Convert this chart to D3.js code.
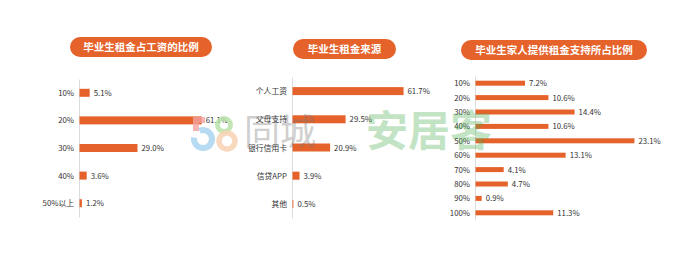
<!DOCTYPE html>
<html>
<head>
<meta charset="utf-8">
<script src="https://cdn.jsdelivr.net/npm/d3@7"></script>
<style>
  html, body { margin: 0; padding: 0; background: #fff; }
  svg { display: block; font-family: "Noto Sans CJK SC", "Noto Sans", sans-serif; }
</style>
</head>
<body>
<div id="chart"></div>
<script>
const W = 700, H = 266;
const orange = '#e5622b';

// panel 1: rent as share of salary
const shareTitle = '毕业生租金占工资的比例';
const shareCats = ['10%', '20%', '30%', '40%', '50%以上'];
const shareVals = [5.1, 61.1, 29.0, 3.6, 1.2];

// panel 2: source of rent
const sourceTitle = '毕业生租金来源';
const sourceCats = ['个人工资', '父母支持', '银行信用卡', '信贷APP', '其他'];
const sourceVals = [61.7, 29.5, 20.9, 3.9, 0.5];

// panel 3: share of rent supported by family
const familyTitle = '毕业生家人提供租金支持所占比例';
const familyCats = ['10%', '20%', '30%', '40%', '50%', '60%', '70%', '80%', '90%', '100%'];
const familyVals = [7.2, 10.6, 14.4, 10.6, 23.1, 13.1, 4.1, 4.7, 0.9, 11.3];

const svg = d3.select('#chart').append('svg').attr('width', W).attr('height', H);

function panel(cfg) {
    const g = svg.append('g');

    // title pill
    g.append('rect')
        .attr('x', cfg.pill[0]).attr('y', cfg.pill[1])
        .attr('width', cfg.pill[2]).attr('height', cfg.pill[3])
        .attr('rx', cfg.pill[3] / 2)
        .attr('fill', orange);
    g.append('text')
        .attr('x', cfg.pill[0] + cfg.pill[2] / 2)
        .attr('y', cfg.pill[1] + cfg.pill[3] / 2 + 3.8)
        .attr('text-anchor', 'middle')
        .attr('fill', '#fff')
        .attr('font-size', 10.5)
        .attr('font-weight', 'bold')
        .text(cfg.title);

    const x = d3.scaleLinear().domain([0, cfg.max]).range([cfg.x0, cfg.x1]);
    const y = d3.scalePoint().domain(cfg.cats).range(cfg.yr).padding(0.5);
    const data = cfg.cats.map((c, i) => ({ c, v: cfg.vals[i] }));

    const ax = g.append('g')
        .attr('transform', `translate(${cfg.x0},0)`)
        .call(d3.axisLeft(y).tickSize(0).tickSizeOuter(0).tickPadding(5));
    ax.select('.domain').attr('stroke', '#dcdcdc');
    ax.selectAll('text')
        .attr('font-size', 7.8)
        .attr('fill', '#333')
        .style('font-family', '"Noto Sans CJK SC", sans-serif');

    g.selectAll('rect.bar')
        .data(data)
        .enter()
        .append('rect')
        .attr('class', 'bar')
        .attr('x', cfg.x0 + 0.5)
        .attr('y', d => y(d.c) - cfg.bh / 2)
        .attr('width', d => x(d.v) - cfg.x0)
        .attr('height', cfg.bh)
        .attr('fill', orange);

    g.selectAll('text.val')
        .data(data)
        .enter()
        .append('text')
        .attr('class', 'val')
        .attr('x', d => x(d.v) + 4.5)
        .attr('y', d => y(d.c) + 3)
        .attr('font-size', 7.8)
        .attr('fill', '#333')
        .text(d => d.v.toFixed(1) + '%');
}

panel({ title: shareTitle, cats: shareCats, vals: shareVals,
    pill: [70, 37, 142, 20], max: 100, x0: 79, x1: 279, yr: [79, 217], bh: 8 });
panel({ title: sourceTitle, cats: sourceCats, vals: sourceVals,
    pill: [293, 39, 103, 20], max: 100, x0: 292, x1: 472, yr: [77, 218], bh: 8 });
panel({ title: familyTitle, cats: familyCats, vals: familyVals,
    pill: [461, 40, 186, 20], max: 25, x0: 475, x1: 647, yr: [76, 220], bh: 5 });

// watermark
const wm = svg.append('g').attr('pointer-events', 'none');
wm.append('path')
    .attr('d', 'M205,120 L196,120 L196,131')
    .attr('fill', 'none').attr('stroke', '#f4a3a3').attr('stroke-width', 6).attr('opacity', 0.8);
const arc = d3.arc().innerRadius(6).outerRadius(12);
wm.append('path')
    .attr('transform', 'translate(203,139)')
    .attr('d', arc({ startAngle: -0.4, endAngle: Math.PI * 1.55 }))
    .attr('fill', '#a9d5f0').attr('opacity', 0.85);
wm.append('circle').attr('cx', 224).attr('cy', 125).attr('r', 6.5)
    .attr('fill', 'none').attr('stroke', '#b9e2a8').attr('stroke-width', 5).attr('opacity', 0.85);
wm.append('circle').attr('cx', 227).attr('cy', 141).attr('r', 8)
    .attr('fill', 'none').attr('stroke', '#f7d2b3').attr('stroke-width', 5.5).attr('opacity', 0.85);
wm.append('text')
    .attr('x', 244).attr('y', 145)
    .attr('font-size', 36)
    .attr('fill', '#777').attr('opacity', 0.35)
    .text('同城');
wm.append('text')
    .attr('x', 366).attr('y', 146)
    .attr('font-size', 42)
    .attr('font-weight', 'bold')
    .attr('fill', '#4caf50').attr('opacity', 0.33)
    .text('安居客');
</script>
</body>
</html>
